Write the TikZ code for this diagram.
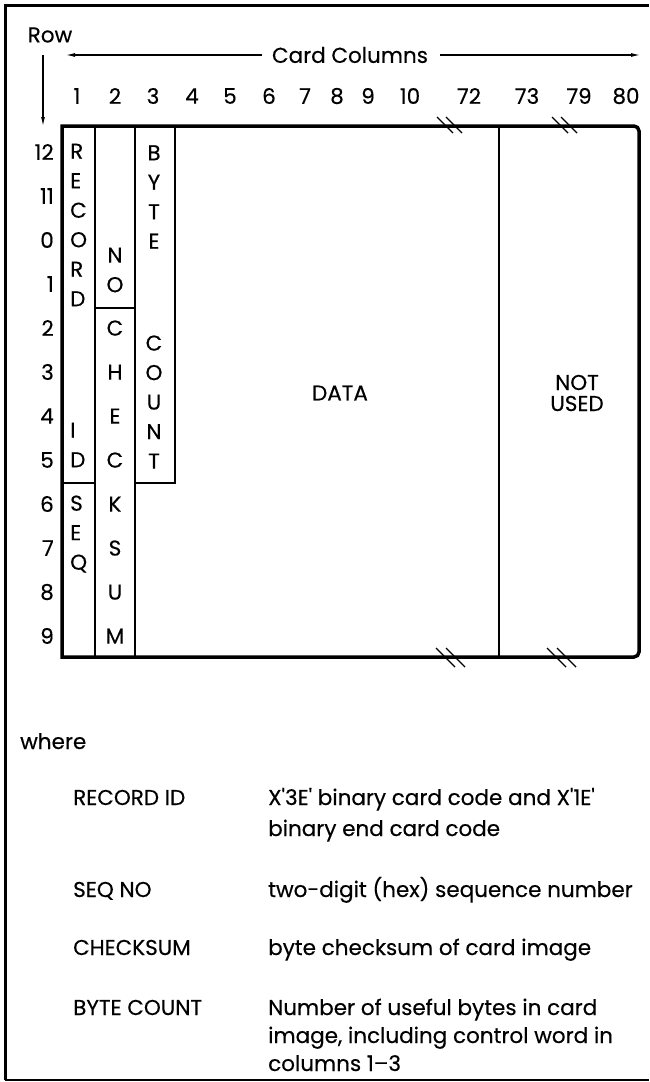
\documentclass[tikz,border=0pt]{standalone}
\usepackage{fontspec}
\setmainfont{Poppins}[FakeBold=0.35]
\usetikzlibrary{arrows.meta}
\begin{document}
\begin{tikzpicture}[x=1pt,y=-1pt,
  txt/.style={inner sep=0pt, font=\fontsize{21.5}{24}\selectfont},
  stackL/.style={inner sep=0pt, align=left, font=\fontsize{21.5}{29.5}\selectfont},
  stackC/.style={inner sep=0pt, align=center, font=\fontsize{21.5}{29.5}\selectfont},
  stackW/.style={inner sep=0pt, align=center, font=\fontsize{21.5}{44}\selectfont},
  frameline/.style={line width=3pt},
  cardline/.style={line width=3.5pt},
  thin/.style={line width=1.4pt},
  brk/.style={line width=1.4pt},
  arr/.style={line width=1.1pt, -{Latex[length=9pt,width=4pt]}}]
\useasboundingbox (0,0) rectangle (649,1082);
% frame
\coordinate (f1) at (5,1080);
\coordinate (f2) at (5,5);
\coordinate (f3) at (649,5);
\coordinate (f4) at (649,1080);
\draw[frameline] (f1) -- (f2) -- (f3);
\draw[line width=1.2pt] (f1) -- (f4);
% headings
\node[txt] (row) at (50,35) {Row};
\coordinate (rowtip) at (43,126);
\draw[arr] (row.south -| rowtip) ++(0,12) -- (rowtip);
\node[txt] (cc) at (350,55) {Card Columns};
\coordinate (ccl) at (66,55);
\coordinate (ccr) at (640,55);
\draw[arr] ([xshift=-10pt]cc.west) -- (ccl);
\draw[arr] ([xshift=12pt]cc.east) -- (ccr);
\foreach \lab/\x in {1/77,2/115,3/153,4/192,5/230,6/269,7/305,8/337,9/368,10/410,72/469,73/527,79/579,80/626}
  \node[txt] (c\lab) at (\x,96) {\lab};
\foreach \lab/\y in {12/152,11/196,0/240,1/284,2/328,3/372,4/416,5/460,6/504,7/548,8/592,9/636}
  \node[txt,anchor=east] (r\lab) at (54,\y) {\lab};
% card coordinates
\coordinate (tl) at (62,126);
\coordinate (bl) at (62,657);
\coordinate (a1) at (95,126);
\coordinate (a2) at (95,657);
\coordinate (b1) at (135,126);
\coordinate (b2) at (135,657);
\coordinate (d1) at (175,126);
\coordinate (d2) at (175,483);
\coordinate (d3) at (135,483);
\coordinate (e1) at (62,483);
\coordinate (e2) at (95,483);
\coordinate (g1) at (95,308);
\coordinate (g2) at (135,308);
\coordinate (h1) at (499,126);
\coordinate (h2) at (499,657);
\draw[thin] (a1) -- (a2);
\draw[thin] (b1) -- (b2);
\draw[thin] (d1) -- (d2) -- (d3);
\draw[thin] (e1) -- (e2);
\draw[thin] (g1) -- (g2);
\draw[thin] (h1) -- (h2);
\draw[cardline] (bl) -- (tl) -- (634,126) arc[start angle=-90,end angle=0,radius=5] -- (639,652) arc[start angle=0,end angle=90,radius=5] -- cycle;
% break marks
\draw[brk] (437,117) -- (453,133);
\draw[brk] (446,117) -- (462,133);
\draw[brk] (552,117) -- (568,133);
\draw[brk] (561,117) -- (577,133);
\draw[brk] (436,648) -- (455,667);
\draw[brk] (446,648) -- (465,667);
\draw[brk] (547,648) -- (566,667);
\draw[brk] (557,648) -- (576,667);
% card texts
\node[stackL,anchor=west] (recA) at (70,225) {R\\E\\C\\O\\R\\D};
\node[stackL,anchor=west] (recB) at (70,445) {I\\D};
\node[stackL,anchor=west] (seq) at (70,534) {S\\E\\Q};
\node[stackC] (no) at (115,270) {N\\O};
\node[stackW] (chk) at (115,482) {C\\H\\E\\C\\K\\S\\U\\M};
\node[stackC] (byte) at (154,197) {B\\Y\\T\\E};
\node[stackC] (count) at (154,402) {C\\O\\U\\N\\T};
\node[txt] (data) at (340,393) {DATA};
\node[txt,align=center,font=\fontsize{21.5}{21}\selectfont] (nu) at (577,393) {NOT\\USED};
% legend
\node[txt,anchor=base west] (where) at (20,749) {where};
\node[txt,anchor=base west] (k1) at (73,805) {RECORD ID};
\node[txt,anchor=base west] (k2) at (73,897) {SEQ NO};
\node[txt,anchor=base west] (k3) at (73,955) {CHECKSUM};
\node[txt,anchor=base west] (k4) at (73,1015) {BYTE COUNT};
\node[txt,anchor=base west] (v1) at (268,805) {X\textquotesingle 3E\textquotesingle{} binary card code and X\textquotesingle 1E\textquotesingle};
\node[txt,anchor=base west] (v1b) at (268,836) {binary end card code};
\node[txt,anchor=base west] (v2) at (268,897) {two-digit (hex) sequence number};
\node[txt,anchor=base west] (v3) at (268,955) {byte checksum of card image};
\node[txt,anchor=base west] (v4) at (268,1015) {Number of useful bytes in card};
\node[txt,anchor=base west] (v4b) at (268,1043) {image, including control word in};
\node[txt,anchor=base west] (v4c) at (268,1071) {columns 1--3};
\end{tikzpicture}
\end{document}
